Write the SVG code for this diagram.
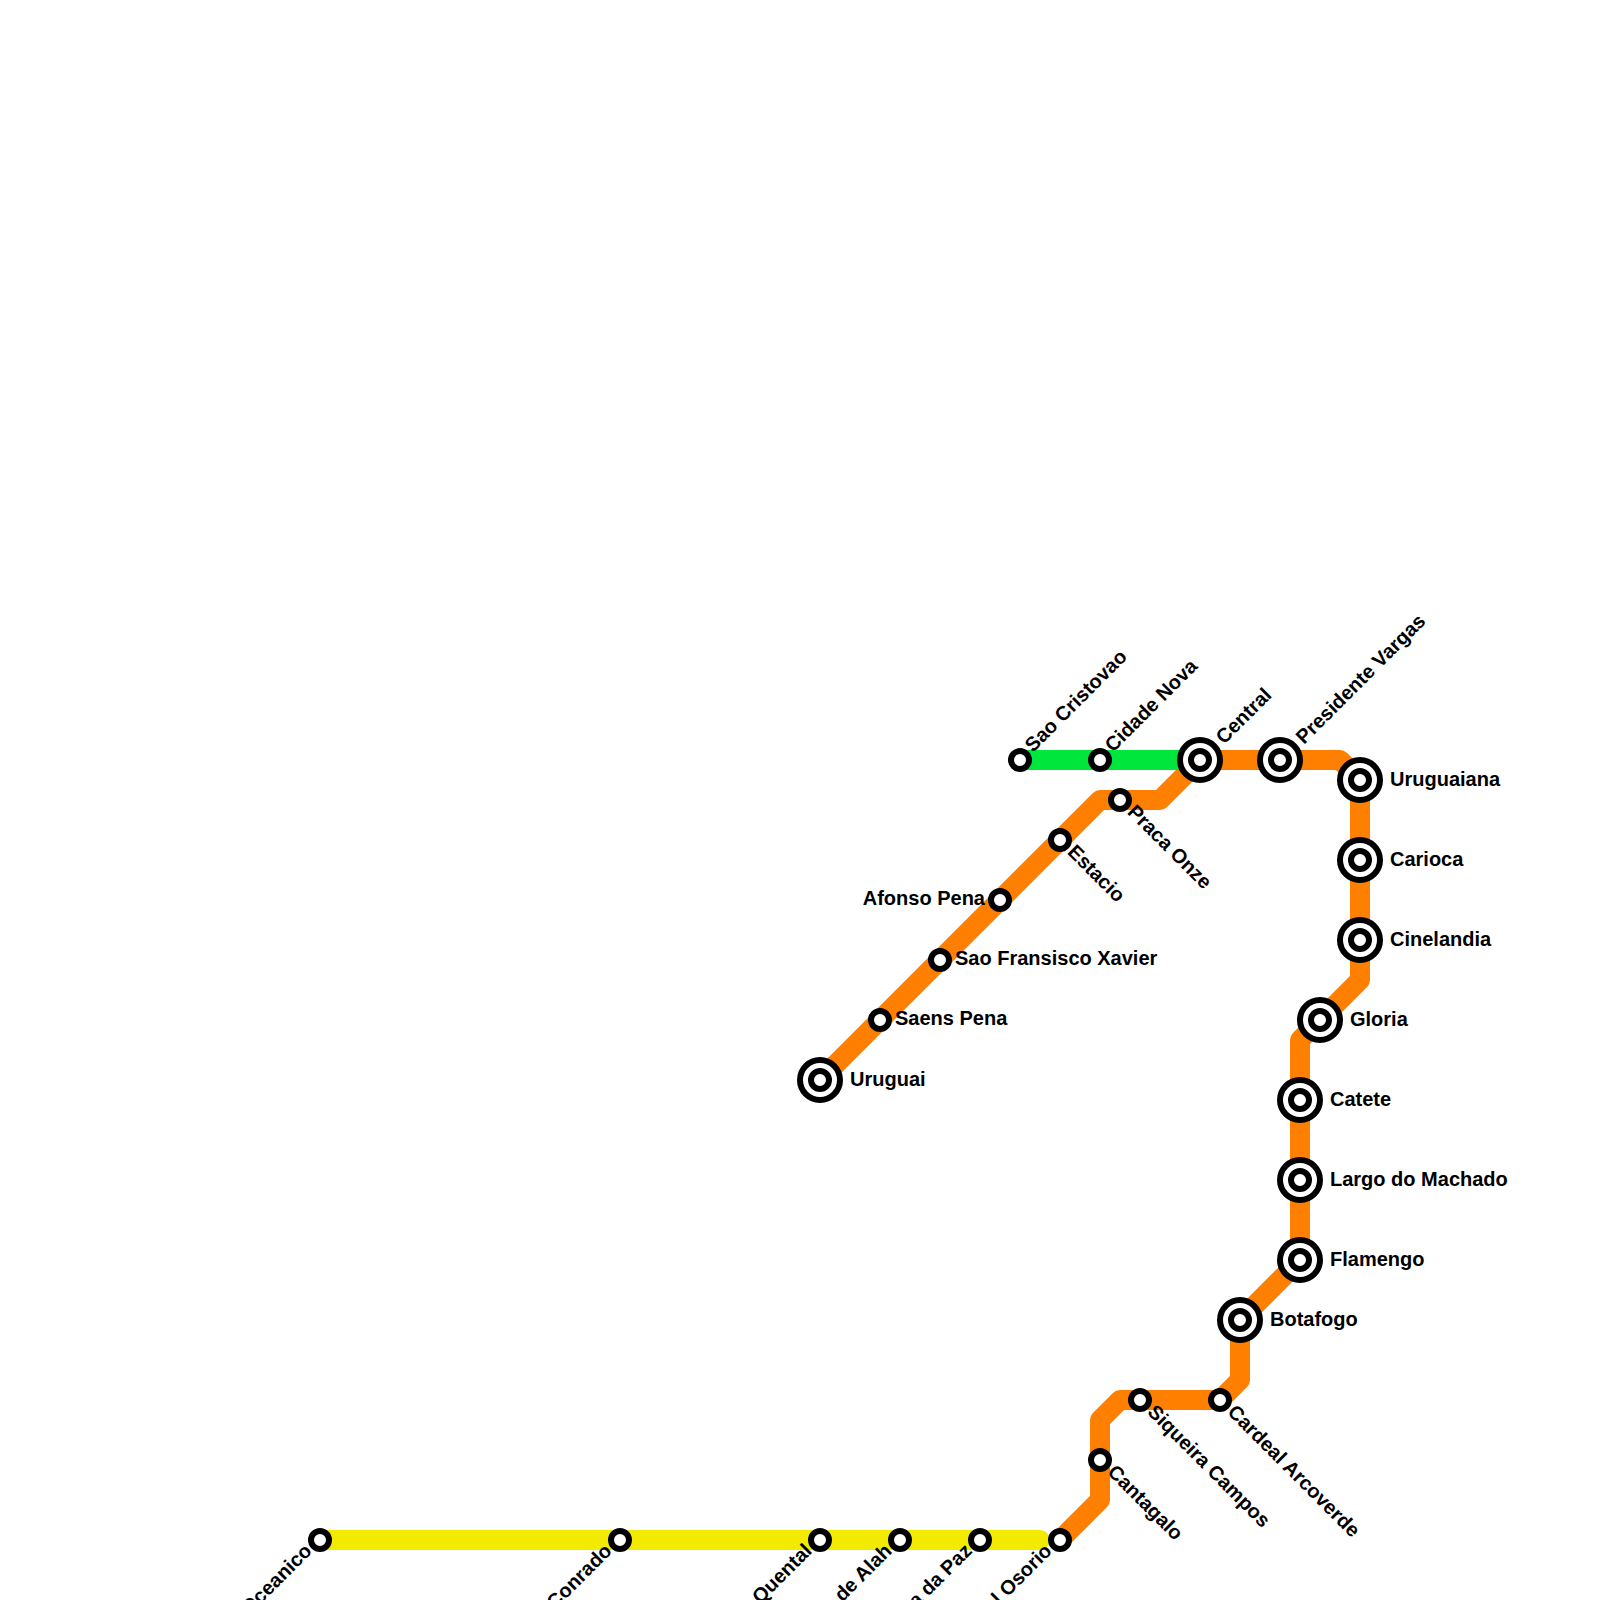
<svg xmlns="http://www.w3.org/2000/svg" width="1600" height="1600" viewBox="0 0 1600 1600">
<style>
.line{fill:none;stroke-width:20;stroke-linejoin:round;stroke-linecap:round}
.s{fill:#fff;stroke:#000;stroke-width:6}
text{font-family:"Liberation Sans",Arial,sans-serif;font-size:20px;font-weight:bold;fill:#000}
.e{text-anchor:end}
</style>
<rect width="1600" height="1600" fill="#fff"/>
<defs>
<g id="big"><circle class="s" r="20"/><circle class="s" r="9"/></g>
<circle id="small" class="s" r="9"/>
</defs>
<g id="connectors">
<path class="line" stroke="#f2ea00" d="M320 1540H1040"/>
<path class="line" stroke="#ff8000" d="M820 1080L1100 800H1160L1200 760H1340L1360 780V980L1320 1020L1300 1040V1260L1240 1320V1380L1220 1400H1120L1100 1420V1500L1060 1540"/>
<path class="line" stroke="#00e63c" d="M1020 760H1190"/>
</g>
<g id="oceanico"><use href="#small" x="320" y="1540"/><text class="e" transform="translate(313,1552) rotate(-45)">Jardim Oceanico</text></g>
<g id="conrado"><use href="#small" x="620" y="1540"/><text class="e" transform="translate(613,1552) rotate(-45)">Sao Conrado</text></g>
<g id="quental"><use href="#small" x="820" y="1540"/><text class="e" transform="translate(813,1552) rotate(-45)">Antero de Quental</text></g>
<g id="alah"><use href="#small" x="900" y="1540"/><text class="e" transform="translate(893,1552) rotate(-45)">Jardim de Alah</text></g>
<g id="paz"><use href="#small" x="980" y="1540"/><text class="e" transform="translate(973,1552) rotate(-45)">Nossa Senhora da Paz</text></g>
<g id="osorio"><use href="#small" x="1060" y="1540"/><text class="e" transform="translate(1053,1552) rotate(-45)">General Osorio</text></g>
<g id="cantagalo"><use href="#small" x="1100" y="1460"/><text transform="translate(1106.5,1473) rotate(45)">Cantagalo</text></g>
<g id="siqueira"><use href="#small" x="1140" y="1400"/><text transform="translate(1146.5,1413) rotate(45)">Siqueira Campos</text></g>
<g id="cardeal"><use href="#small" x="1220" y="1400"/><text transform="translate(1226.5,1413) rotate(45)">Cardeal Arcoverde</text></g>
<g id="botafogo"><use href="#big" x="1240" y="1320"/><text x="1270" y="1325.5">Botafogo</text></g>
<g id="flamengo"><use href="#big" x="1300" y="1260"/><text x="1330" y="1265.5">Flamengo</text></g>
<g id="largo"><use href="#big" x="1300" y="1180"/><text x="1330" y="1185.5">Largo do Machado</text></g>
<g id="catete"><use href="#big" x="1300" y="1100"/><text x="1330" y="1105.5">Catete</text></g>
<g id="gloria"><use href="#big" x="1320" y="1020"/><text x="1350" y="1025.5">Gloria</text></g>
<g id="cinelandia"><use href="#big" x="1360" y="940"/><text x="1390" y="945.5">Cinelandia</text></g>
<g id="carioca"><use href="#big" x="1360" y="860"/><text x="1390" y="865.5">Carioca</text></g>
<g id="uruguaiana"><use href="#big" x="1360" y="780"/><text x="1390" y="785.5">Uruguaiana</text></g>
<g id="vargas"><use href="#big" x="1280" y="760"/><text transform="translate(1304,745) rotate(-45)">Presidente Vargas</text></g>
<g id="central"><use href="#big" x="1200" y="760"/><text transform="translate(1224,745) rotate(-45)">Central</text></g>
<g id="cidade"><use href="#small" x="1100" y="760"/><text transform="translate(1113,753) rotate(-45)">Cidade Nova</text></g>
<g id="cristovao"><use href="#small" x="1020" y="760"/><text transform="translate(1033,753) rotate(-45)">Sao Cristovao</text></g>
<g id="onze"><use href="#small" x="1120" y="800"/><text transform="translate(1126.5,813) rotate(45)">Praca Onze</text></g>
<g id="estacio"><use href="#small" x="1060" y="840"/><text transform="translate(1066.5,853) rotate(45)">Estacio</text></g>
<g id="afonso"><use href="#small" x="1000" y="900"/><text class="e" x="985" y="905">Afonso Pena</text></g>
<g id="xavier"><use href="#small" x="940" y="960"/><text x="955" y="965">Sao Fransisco Xavier</text></g>
<g id="saens"><use href="#small" x="880" y="1020"/><text x="895" y="1025">Saens Pena</text></g>
<g id="uruguai"><use href="#big" x="820" y="1080"/><text x="850" y="1085.5">Uruguai</text></g>
</svg>
